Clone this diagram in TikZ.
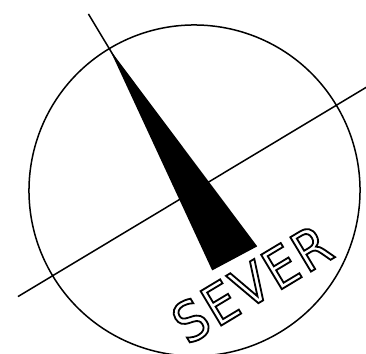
\documentclass[tikz,border=0pt]{standalone}
\usepackage{fontspec}
\newfontfamily\severfont[FakeStretch=0.9,LetterSpace=5]{DejaVu Sans}
\newcommand\outlinetext[1]{\special{pdf:literal direct 1 Tr 1.8 w}#1\special{pdf:literal direct 0 Tr}}
\begin{document}
\begin{tikzpicture}[x=1pt,y=1pt,line width=1.5pt]
\useasboundingbox (0,0) rectangle (366,353);
\begin{scope}[shift={(194.5,162.5)},rotate=31]
  \coordinate (c) at (0,0);
  \coordinate (n) at (0,206);
  \coordinate (w) at (-206,0);
  \coordinate (e) at (206,0);
  \draw (c) circle (165.5);
  \draw (c) -- (n);
  \draw (w) -- (e);
  \fill (0,164.5) -- (-26,-77.6) -- (25,-80.2) -- cycle;
  \node[inner sep=0pt,rotate=31,text height=40pt,text depth=0pt,
        font=\severfont\fontsize{55}{55}\selectfont] (sever) at (1,-109.5)
    {\outlinetext{SEVER}};
\end{scope}
\end{tikzpicture}
\end{document}
